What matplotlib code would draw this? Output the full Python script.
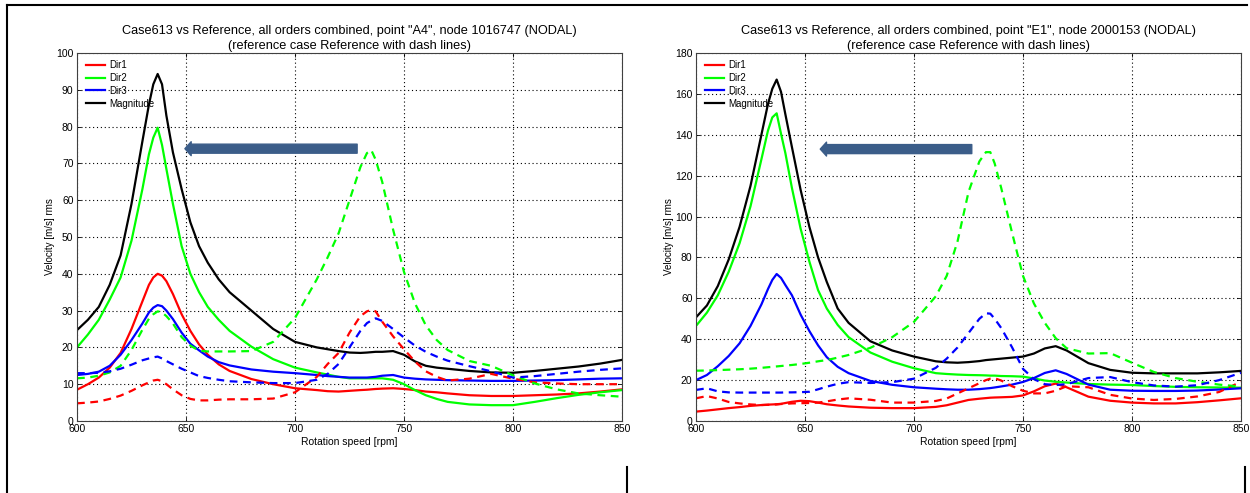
import numpy as np
import matplotlib.pyplot as plt
from matplotlib.lines import Line2D
from matplotlib.patches import FancyArrowPatch

plt.rcParams['font.family'] = ['Liberation Sans', 'DejaVu Sans']

# rotation speed grid [rpm], shared by every curve
rpm = [600, 605, 610, 615, 620, 625, 630, 633, 635, 637, 639, 641, 644, 648, 652,
       656, 660, 665, 670, 680, 690, 700, 710, 715, 720, 725, 730, 733, 735, 737,
       740, 745, 750, 755, 760, 765, 770, 780, 790, 800, 810, 820, 830, 840, 850]

# ---- point "A4", node 1016747 ----
a4_dir1 = [8.5, 10, 11.8, 14.5, 18.5, 25, 32.5, 37, 39, 40, 39.5, 38, 34.5, 29, 24.5,
           20.8, 18, 15.4, 13.6, 11.4, 10, 8.9, 8.4, 8.1, 8, 8.2, 8.4, 8.5, 8.6, 8.7,
           8.8, 8.9, 8.7, 8.4, 8, 7.8, 7.5, 7, 6.8, 6.8, 7, 7.2, 7.5, 8, 8.6]
a4_dir2 = [20, 23.5, 27.5, 33, 39, 49, 63, 72.5, 77, 79.7, 75, 68.5, 59, 47.5, 40,
           35, 31, 27.5, 24.5, 20.2, 16.8, 14.5, 13.2, 12.6, 12, 11.6, 11.6, 11.6, 11.6, 11.6,
           11.6, 11.2, 10, 8.4, 7, 6, 5.2, 4.5, 4.3, 4.3, 5.2, 6.2, 7.1, 7.8, 8.4]
a4_dir3 = [12.5, 12.8, 13.4, 15, 18, 22, 26.5, 29.5, 30.8, 31.5, 31.2, 30, 27.7, 24, 21,
           19.2, 17.5, 16, 15.1, 14, 13.4, 13, 12.5, 12.2, 12, 11.8, 11.8, 11.8, 11.9, 12,
           12.3, 12.5, 11.8, 11.5, 11.3, 11.2, 11.1, 11, 10.9, 10.9, 11, 11.1, 11.3, 11.5, 11.6]
a4_mag = [24.7, 27.5, 31, 37, 45, 59, 76, 86, 91.5, 94.3, 91.5, 83, 73, 63, 54,
          47.5, 43, 38.5, 35, 30, 25, 21.5, 20, 19.5, 19, 18.6, 18.5, 18.6, 18.7, 18.8,
          18.8, 19, 18, 16.2, 15, 14.5, 14.2, 13.6, 13.2, 13.1, 13.6, 14.2, 14.8, 15.6, 16.6]
a4_ref_dir1 = [4.8, 5, 5.3, 6, 6.9, 8.2, 9.7, 10.5, 11, 11.2, 10.8, 10, 8.6, 7, 6,
               5.6, 5.6, 5.8, 5.9, 5.9, 6.1, 7.8, 12, 15.5, 18.5, 24, 28.5, 29.8, 30.2, 29.8,
               27, 23, 19.5, 16.2, 13.5, 12, 11, 11.5, 12.8, 11.5, 10.5, 10.2, 10, 10, 10]
a4_ref_dir2 = [11.6, 11.8, 12.3, 13.2, 15, 19.3, 24.8, 27.8, 29, 29.8, 29.5, 28.5, 26.5, 22.8, 20.5,
               19.1, 18.9, 18.9, 18.9, 19, 21.5, 28, 38.5, 44.5, 51, 60, 69, 72.8, 73.6, 71,
               65, 52, 40.5, 32, 26, 22, 19.3, 16.3, 15, 12.4, 10.2, 8.6, 7.5, 7, 6.6]
a4_ref_dir3 = [13, 13, 13.1, 13.5, 14.2, 15.3, 16.5, 17, 17.3, 17.5, 17, 16.3, 15.4, 14.2, 13.2,
               12.2, 11.7, 11.2, 10.8, 10.5, 10.3, 10.3, 11.2, 12.8, 15.5, 20, 24.5, 26.6, 27.3, 27.9,
               27.2, 25, 22.7, 20.5, 18.8, 17.5, 16.4, 14.9, 13.5, 11.8, 12.2, 12.8, 13.4, 13.9, 14.3]

# ---- point "E1", node 2000153 ----
e1_dir1 = [4.6, 5.1, 5.7, 6.3, 6.8, 7.4, 7.8, 8, 8.1, 8.2, 8.4, 8.8, 9.4, 9.9, 9.7,
           9, 8.2, 7.6, 7.1, 6.5, 6.3, 6.3, 6.9, 7.7, 9, 10.3, 10.9, 11.2, 11.4, 11.5,
           11.6, 11.8, 12.5, 14.5, 17, 18.3, 16.5, 11.9, 9.9, 9, 8.6, 8.6, 9.2, 10.1, 11.1]
e1_dir2 = [46.5, 53, 61.5, 73, 87, 105, 128, 142, 148.5, 150.5, 140.5, 131, 114, 94, 78,
           64, 55, 47, 41, 33.5, 29, 25.8, 23.4, 23, 22.7, 22.5, 22.4, 22.3, 22.2, 22.2,
           22, 21.9, 21.7, 20.8, 19.8, 19.2, 18.8, 18.1, 17.8, 17.6, 17.1, 16.7, 16.5, 16.4, 16.3]
e1_dir3 = [20, 22.5, 26.8, 31.8, 38, 46.5, 57, 64.5, 69, 71.9, 70, 66.5, 61.5, 52, 44,
           37, 31.2, 26.5, 23.4, 19.6, 17.7, 16.5, 15.8, 15.5, 15.3, 15.3, 15.6, 15.9, 16.1, 16.4,
           16.9, 17.8, 19.1, 21, 23.5, 24.8, 23, 17.8, 15.3, 14.8, 14.7, 14.7, 14.9, 15.4, 16]
e1_mag = [50.7, 56.5, 66, 79, 95, 115, 140, 155, 162.5, 167, 161, 150, 134, 113, 95,
          80, 68, 55, 48, 39, 34.5, 31.5, 29.2, 28.7, 28.5, 28.8, 29.3, 29.8, 30, 30.2,
          30.5, 31, 31.5, 33, 35.5, 36.6, 34.5, 28.3, 25, 23.6, 23.3, 23.3, 23.3, 23.8, 24.5]
e1_ref_dir1 = [11.1, 12.2, 11, 9.3, 8.6, 8.1, 7.8, 7.9, 8, 8.1, 8.3, 8.4, 8.6, 8.7, 8.8,
               9, 9.6, 10.5, 11.1, 10.4, 9, 9, 9.8, 11, 13.5, 16, 18.5, 20, 20.7, 20.9,
               19.8, 17, 14.8, 13.5, 13.5, 14.8, 17, 16.5, 12.8, 11, 10.3, 10.8, 12, 14.2, 19.2]
e1_ref_dir2 = [24.6, 24.7, 24.9, 25.1, 25.3, 25.6, 26, 26.3, 26.5, 26.7, 26.9, 27.1, 27.4, 27.9, 28.5,
               29.2, 29.8, 31, 32.3, 35.8, 41, 48.5, 61, 71, 88, 112, 127, 131.5, 131.5, 126,
               114, 92, 71, 57.5, 48, 40.5, 35.6, 33, 33.2, 28.5, 24, 21, 19.2, 17.8, 16.8]
e1_ref_dir3 = [15.2, 16, 14.5, 14, 13.9, 13.9, 13.9, 13.9, 13.9, 13.9, 13.9, 14, 14, 14.1, 14.3,
               15.5, 16.8, 18.2, 19, 18.6, 19, 20.7, 26, 30.5, 36, 43, 50, 52.7, 52.5, 50,
               45.5, 36, 25.5, 20.5, 18, 17.6, 18, 21, 21.5, 19, 17.4, 16.8, 17.5, 20, 23.6]

panels = [
    ('Case613 vs Reference, all orders combined, point "A4", node 1016747 (NODAL)',
     (a4_dir1, a4_dir2, a4_dir3, a4_mag), (a4_ref_dir1, a4_ref_dir2, a4_ref_dir3),
     100, 10, (649.5, 728.5, 74)),
    ('Case613 vs Reference, all orders combined, point "E1", node 2000153 (NODAL)',
     (e1_dir1, e1_dir2, e1_dir3, e1_mag), (e1_ref_dir1, e1_ref_dir2, e1_ref_dir3),
     180, 20, (657, 726.5, 133)),
]
names = ['Dir1', 'Dir2', 'Dir3', 'Magnitude']
colors = ['#ff0000', '#00ff00', '#0000ff', '#000000']

W, H = 1250, 493
fig = plt.figure(figsize=(12.5, 4.93), dpi=100)

# axes boxes in pixels: left, top, right, bottom
boxes = [(77, 53, 622, 421), (696, 53, 1241, 421)]

for (title, cur, ref, ymax, ystep, arr), (l, t, r, b) in zip(panels, boxes):
    ax = fig.add_axes([l / W, 1 - b / H, (r - l) / W, (b - t) / H])
    for ys, c, n in zip(cur, colors, names):
        ax.plot(rpm, ys, color=c, lw=1.6, label=n, solid_joinstyle='round')
    for ys, c in zip(ref, colors):
        ax.plot(rpm, ys, color=c, lw=1.6, ls=(0, (3.5, 2.5)))

    ax.set_xlim(600, 850)
    ax.set_ylim(0, ymax)
    ax.set_xticks(np.arange(600, 851, 50))
    ax.set_yticks(np.arange(0, ymax + 1, ystep))
    ax.grid(True, ls=(0, (1, 2.5)), color='black', lw=0.8)
    ax.set_axisbelow(True)
    ax.tick_params(direction='in', top=True, right=True, labelsize=7.5,
                   length=3, width=0.6, pad=2.5)
    for sp in ax.spines.values():
        sp.set_color('#404040')
        sp.set_linewidth(0.8)

    ax.set_title(title + '\n(reference case Reference with dash lines)',
                 fontsize=9.2, linespacing=1.3, pad=3)
    ax.set_xlabel('Rotation speed [rpm]', fontsize=7.5, labelpad=1.5)
    ax.set_ylabel('Velocity [m/s] rms', fontsize=7, labelpad=1)

    ax.legend(loc='upper left', bbox_to_anchor=(9 / 545, 1 - 7 / 368), frameon=False,
              fontsize=7, handlelength=2.0, handletextpad=0.4, labelspacing=0.3,
              borderpad=0, borderaxespad=0)

    # hand-drawn shift arrow
    x_tip, x_tail, y_arr = arr
    ax.add_patch(FancyArrowPatch((x_tail, y_arr), (x_tip, y_arr),
                                 arrowstyle='simple,tail_width=0.65,head_width=1.0,head_length=0.45',
                                 mutation_scale=10, color='#3b5d89', capstyle='round',
                                 joinstyle='round', shrinkA=0, shrinkB=0, zorder=5))

# page frame lines
frame = [((7, 1247), (5, 5)), ((7, 7), (5, 493)), ((627, 627), (467, 493)),
         ((1245, 1245), (467, 493))]
for xs, ys in frame:
    fig.add_artist(Line2D([x / W for x in xs], [1 - y / H for y in ys],
                          color='black', lw=1.5))

fig.savefig('out.png', dpi=100)
